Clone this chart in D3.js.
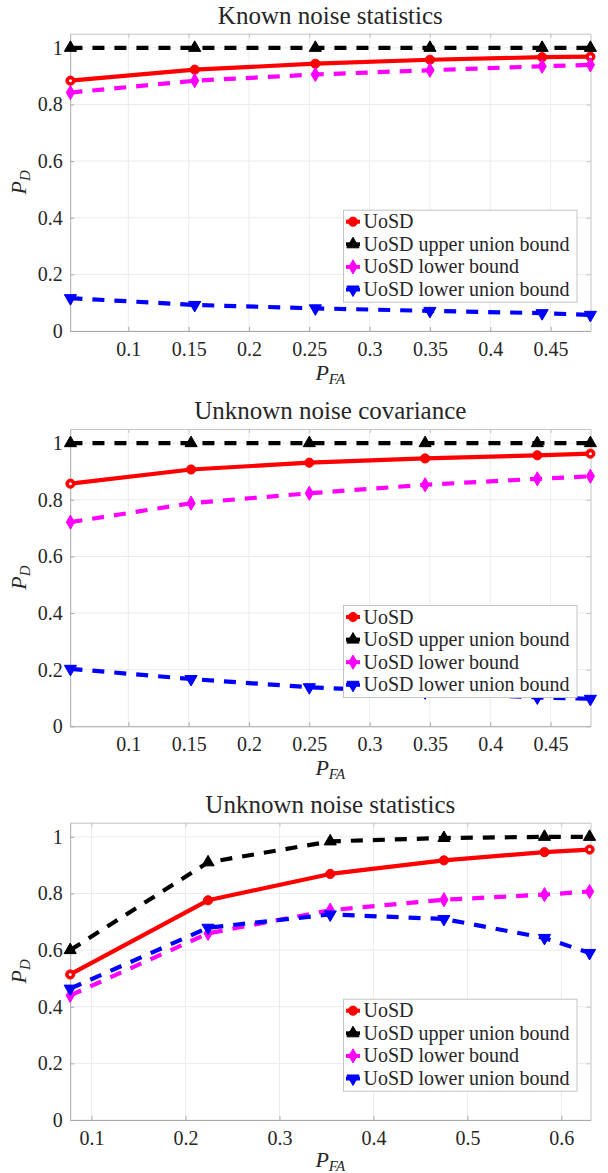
<!DOCTYPE html>
<html>
<head>
<meta charset="utf-8">
<script src="https://cdn.jsdelivr.net/npm/d3@7"></script>
<style>
  body { margin: 0; background: #fff; }
  svg { display: block; }
  text { font-family: "Liberation Serif", "DejaVu Serif", serif; fill: #262626; }
</style>
</head>
<body>
<svg id="fig" width="608" height="1173"></svg>
<script>
// ---- data ----
const panelTitles = ["Known noise statistics", "Unknown noise covariance", "Unknown noise statistics"];
const seriesNames = ["UoSD", "UoSD upper union bound", "UoSD lower bound", "UoSD lower union bound"];

// Known noise statistics
const pfaKnown      = [0.052, 0.155, 0.255, 0.350, 0.443, 0.483];
const pdKnownUoSD   = [0.884, 0.923, 0.944, 0.958, 0.967, 0.969];
const pdKnownUpper  = [1.000, 1.000, 1.000, 1.000, 1.000, 1.000];
const pdKnownLower  = [0.842, 0.884, 0.906, 0.921, 0.935, 0.940];
const pdKnownLowerU = [0.116, 0.092, 0.080, 0.071, 0.063, 0.057];

// Unknown noise covariance
const pfaCov      = [0.052, 0.152, 0.250, 0.346, 0.439, 0.483];
const pdCovUoSD   = [0.857, 0.907, 0.931, 0.946, 0.957, 0.963];
const pdCovUpper  = [1.000, 1.000, 1.000, 1.000, 1.000, 1.000];
const pdCovLower  = [0.721, 0.788, 0.823, 0.853, 0.874, 0.883];
const pdCovLowerU = [0.203, 0.167, 0.138, 0.120, 0.102, 0.097];

// Unknown noise statistics
const pfaStat      = [0.0773, 0.224, 0.354, 0.475, 0.582, 0.630];
const pdStatUoSD   = [0.514, 0.776, 0.869, 0.917, 0.946, 0.955];
const pdStatUpper  = [0.600, 0.910, 0.984, 0.996, 1.000, 1.000];
const pdStatLower  = [0.440, 0.659, 0.741, 0.778, 0.796, 0.807];
const pdStatLowerU = [0.464, 0.679, 0.726, 0.710, 0.643, 0.590];

// axis limits and ticks
const xLimKnown = [0.0518, 0.4831];
const xLimCov   = [0.0518, 0.4831];
const xLimStat  = [0.0773, 0.631];
const yLim      = [0, 1.05];
const xTicksAB  = [0.1, 0.15, 0.2, 0.25, 0.3, 0.35, 0.4, 0.45];
const xTicksC   = [0.1, 0.2, 0.3, 0.4, 0.5, 0.6];
const yTicks    = [0, 0.2, 0.4, 0.6, 0.8, 1];

const panels = [
  { title: panelTitles[0], xLim: xLimKnown, xTicks: xTicksAB, pfa: pfaKnown,
    pd: [pdKnownUoSD, pdKnownUpper, pdKnownLower, pdKnownLowerU] },
  { title: panelTitles[1], xLim: xLimCov, xTicks: xTicksAB, pfa: pfaCov,
    pd: [pdCovUoSD, pdCovUpper, pdCovLower, pdCovLowerU] },
  { title: panelTitles[2], xLim: xLimStat, xTicks: xTicksC, pfa: pfaStat,
    pd: [pdStatUoSD, pdStatUpper, pdStatLower, pdStatLowerU] }
];

// ---- styles ----
const seriesStyle = [
  { color: "#ff0000", dash: null,    symbol: d3.symbolCircle,   size: 66, rotate: 0 },
  { color: "#000000", dash: "12,10", symbol: d3.symbolTriangle, size: 64, rotate: 0 },
  { color: "#ff00ff", dash: "12,10", symbol: d3.symbolDiamond,  size: 58, rotate: 0 },
  { color: "#0000ff", dash: "12,10", symbol: d3.symbolTriangle, size: 64, rotate: 180 }
];

const plotLeft = 70.2, plotRight = 590.5, plotHeight = 297.3;
const panelTops = [33.7, 429, 822.7];
const xLabelOffsets = [49, 49, 47];
const tickFont = 20, legendFont = 20, titleFont = 25;
const serifStack = '"Liberation Serif", "DejaVu Serif", serif';

const svg = d3.select("#fig");
const fmt = d3.format("");

panels.forEach((p, pi) => {
  const top = panelTops[pi], bottom = top + plotHeight;
  const x = d3.scaleLinear().domain(p.xLim).range([plotLeft, plotRight]);
  const y = d3.scaleLinear().domain(yLim).range([bottom, top]);
  const g = svg.append("g");

  // grid
  g.append("g").selectAll("line").data(p.xTicks).join("line")
    .attr("x1", d => x(d)).attr("x2", d => x(d))
    .attr("y1", top).attr("y2", bottom)
    .attr("stroke", "#ebebeb").attr("stroke-width", 1);
  g.append("g").selectAll("line").data(yTicks).join("line")
    .attr("x1", plotLeft).attr("x2", plotRight)
    .attr("y1", d => y(d)).attr("y2", d => y(d))
    .attr("stroke", "#ebebeb").attr("stroke-width", 1);

  // box: top / right axes (no labels)
  const axTop = g.append("g").attr("transform", `translate(0,${top})`)
    .call(d3.axisTop(x).tickValues(p.xTicks).tickSize(-4).tickSizeOuter(0).tickFormat(""));
  const axRight = g.append("g").attr("transform", `translate(${plotRight},0)`)
    .call(d3.axisRight(y).tickValues(yTicks).tickSize(-4).tickSizeOuter(0).tickFormat(""));
  [axTop, axRight].forEach(a => {
    a.select(".domain").attr("stroke", "#c4c4c4");
    a.selectAll(".tick line").attr("stroke", "#c4c4c4");
  });

  // bottom / left axes
  const axB = g.append("g").attr("transform", `translate(0,${bottom})`)
    .call(d3.axisBottom(x).tickValues(p.xTicks).tickSize(-4).tickSizeOuter(0)
      .tickPadding(10.8).tickFormat(fmt));
  const axL = g.append("g").attr("transform", `translate(${plotLeft},0)`)
    .call(d3.axisLeft(y).tickValues(yTicks).tickSize(-4).tickSizeOuter(0)
      .tickPadding(7.5).tickFormat(fmt));
  [axB, axL].forEach(a => {
    a.attr("font-family", serifStack).attr("font-size", tickFont);
    a.select(".domain").attr("stroke", "#a8a8a8");
    a.selectAll(".tick line").attr("stroke", "#a8a8a8");
    a.selectAll(".tick text").attr("fill", "#262626");
  });

  // title
  g.append("text").attr("x", (plotLeft + plotRight) / 2).attr("y", top - 10)
    .attr("text-anchor", "middle").attr("font-size", titleFont).text(p.title);

  // x label P_FA
  const xl = g.append("text").attr("x", (plotLeft + plotRight) / 2)
    .attr("y", bottom + xLabelOffsets[pi])
    .attr("text-anchor", "middle").attr("font-size", 22);
  xl.append("tspan").attr("font-style", "italic").text("P");
  xl.append("tspan").attr("font-style", "italic").attr("font-size", 15)
    .attr("dy", 3.5).text("FA");

  // y label P_D
  const yl = g.append("text")
    .attr("transform", `translate(26,${(top + bottom) / 2}) rotate(-90)`)
    .attr("text-anchor", "middle").attr("font-size", 22);
  yl.append("tspan").attr("font-style", "italic").text("P");
  yl.append("tspan").attr("font-style", "italic").attr("font-size", 15)
    .attr("dy", 3.5).text("D");

  // series
  const line = d3.line().x(d => x(d[0])).y(d => y(d[1]));
  p.pd.forEach((vals, si) => {
    const st = seriesStyle[si];
    const pts = p.pfa.map((v, i) => [v, vals[i]]);
    const s = g.append("g");
    s.append("path").datum(pts).attr("d", line)
      .attr("fill", "none").attr("stroke", st.color).attr("stroke-width", 4.2)
      .attr("stroke-linejoin", "round")
      .attr("stroke-dasharray", st.dash);
    s.selectAll("path.mk").data(pts).join("path").attr("class", "mk")
      .attr("d", d3.symbol().type(st.symbol).size(st.size))
      .attr("transform", d => `translate(${x(d[0])},${y(d[1])}) rotate(${st.rotate})`)
      .attr("fill", st.color).attr("stroke", st.color).attr("stroke-width", 1);
    if (si === 0) {
      // end markers of the solid curve show a light core
      s.selectAll("circle.core").data([pts[0], pts[pts.length - 1]]).join("circle")
        .attr("class", "core")
        .attr("cx", d => x(d[0])).attr("cy", d => y(d[1])).attr("r", 1.5)
        .attr("fill", "#ffffff");
    }
  });

  // legend
  const lgW = 233.5, lgH = 92;
  const lgX = plotRight - 13.5 - lgW, lgY = top + 176.5;
  const lg = g.append("g").attr("transform", `translate(${lgX},${lgY})`);
  lg.append("rect").attr("width", lgW).attr("height", lgH)
    .attr("fill", "#fff").attr("stroke", "#c4c4c4").attr("stroke-width", 1);
  seriesNames.forEach((name, si) => {
    const st = seriesStyle[si];
    const ry = 11.5 + si * 22.6;
    lg.append("line").attr("x1", 2.5).attr("x2", 16.5).attr("y1", ry).attr("y2", ry)
      .attr("stroke", st.color).attr("stroke-width", 4);
    lg.append("path").attr("d", d3.symbol().type(st.symbol).size(st.size))
      .attr("transform", `translate(9.5,${ry}) rotate(${st.rotate})`)
      .attr("fill", st.color).attr("stroke", st.color).attr("stroke-width", 1);
    lg.append("text").attr("x", 20).attr("y", ry).attr("dy", "0.33em")
      .attr("font-size", legendFont).text(name);
  });
});
</script>
</body>
</html>
